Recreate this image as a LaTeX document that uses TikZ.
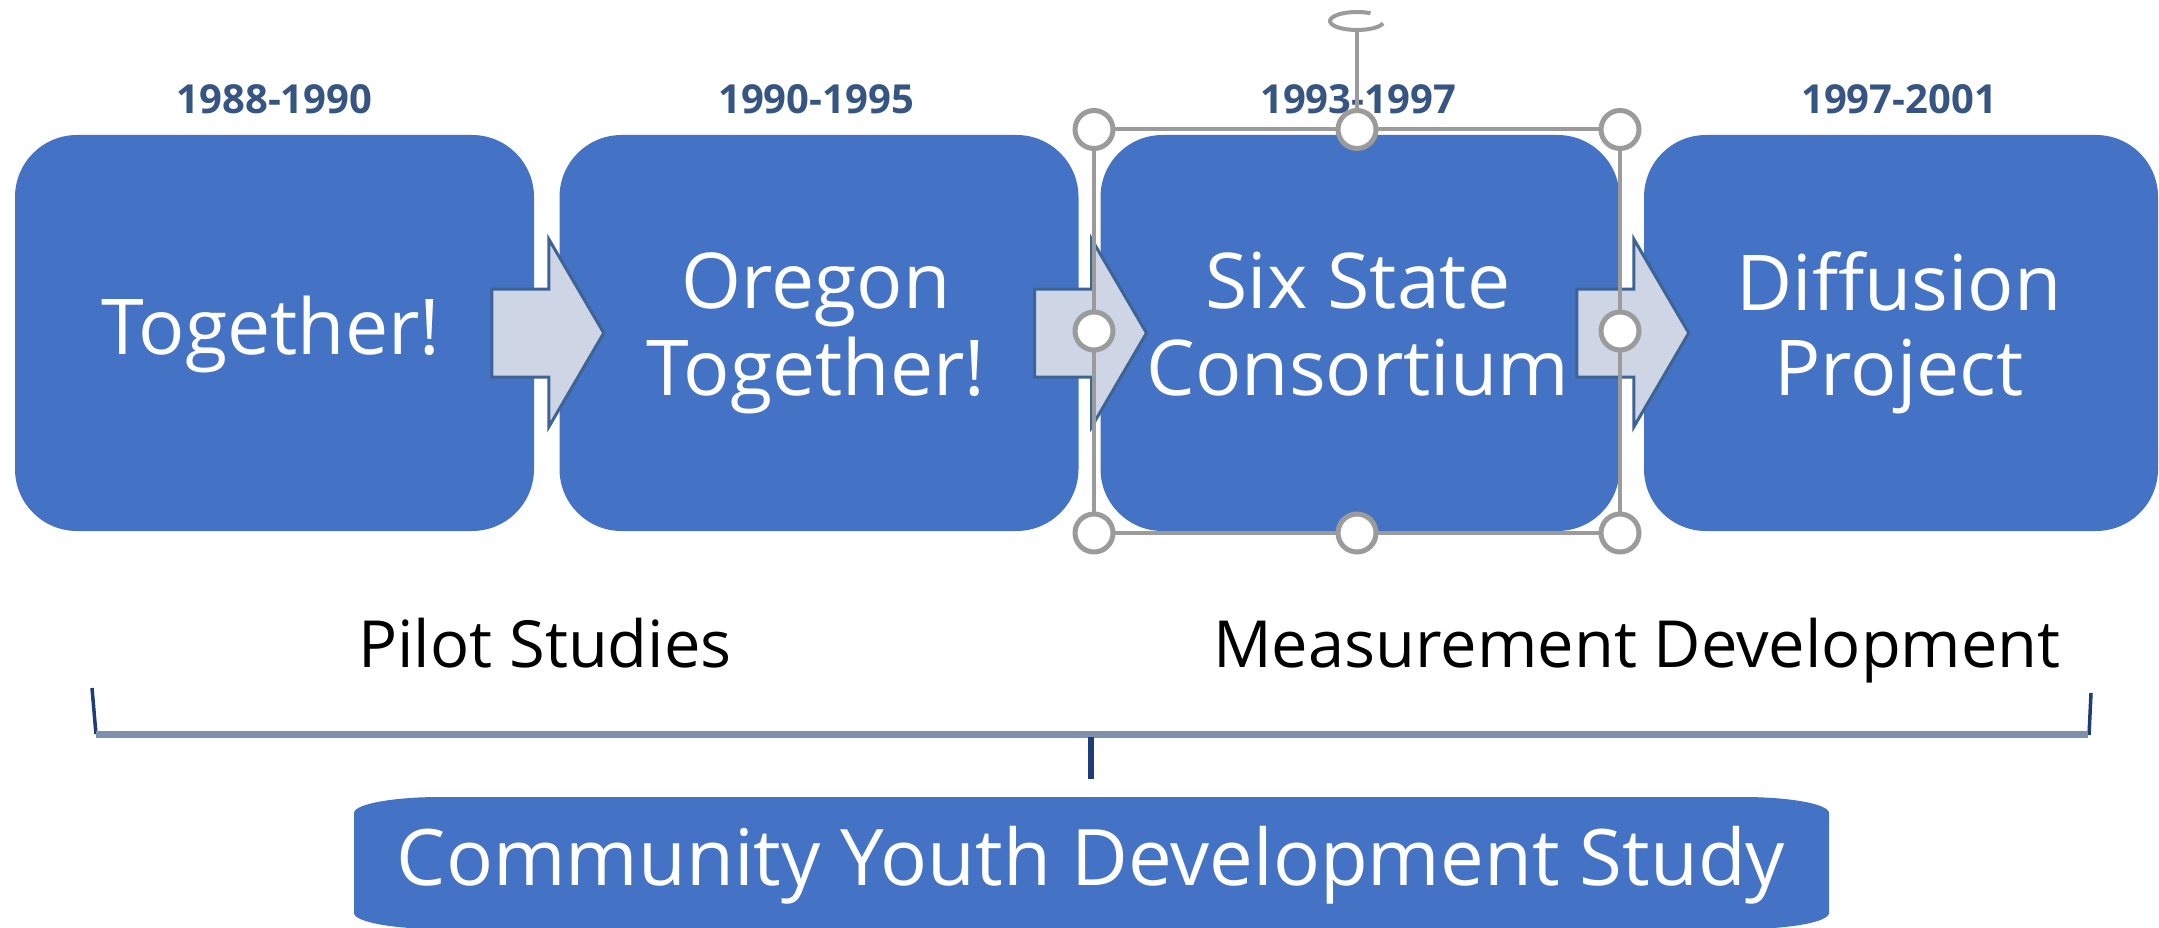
\documentclass[tikz,border=0pt]{standalone}
\usepackage{fontspec}
\setmainfont{Open Sans}
\usetikzlibrary{calc}
\definecolor{boxblue}{RGB}{68,114,196}
\definecolor{arrowfill}{RGB}{206,213,228}
\definecolor{arrowdraw}{RGB}{62,100,150}
\definecolor{yearcol}{RGB}{55,85,130}
\definecolor{framegray}{RGB}{155,155,155}
\definecolor{barcol}{RGB}{127,143,176}
\definecolor{navy}{RGB}{30,60,120}
\tikzset{
  stagebox/.style={fill=boxblue, draw=none, rounded corners=62pt, inner sep=0pt,
    minimum width=519pt, minimum height=396pt},
  boxtxt/.style={text=white, inner sep=0pt, anchor=base, font=\fontsize{77}{87}\selectfont},
  yeartxt/.style={text=yearcol, inner sep=0pt, anchor=base, font=\fontsize{40}{48}\selectfont\bfseries},
  phasetxt/.style={text=black, inner sep=0pt, anchor=base, font=\fontsize{65}{78}\selectfont},
  blockarrow/.style={fill=arrowfill, draw=arrowdraw, line width=3pt, line join=miter},
  frameline/.style={draw=framegray, line width=4pt},
  handle/.style={circle, draw=framegray, fill=white, line width=5pt, minimum size=38pt, inner sep=0pt},
  tick/.style={draw=navy, line width=3.5pt},
}
\begin{document}
\begin{tikzpicture}[x=1pt,y=-1pt]
\useasboundingbox (0,0) rectangle (2159,928);
\clip (0,0) rectangle (2159,928);

% stage boxes
\node[stagebox] (b1) at (274.5,333) {};
\node[stagebox] (b2) at (819,333) {};
\node[stagebox] (b3) at (1360,333) {};
\node[stagebox, minimum width=514pt] (b4) at (1901,333) {};

% year labels
\node[yeartxt] (y1) at (274.5,114) {1988-1990};
\node[yeartxt] (y2) at (816,114) {1990-1995};
\node[yeartxt] (y3) at (1358,114) {1993-1997};
\node[yeartxt] (y4) at (1899,114) {1997-2001};

% box texts
\node[boxtxt] (t1) at (271,354) {Together!};
\node[boxtxt] (t2a) at (816,308) {Oregon};
\node[boxtxt] (t2b) at (816,395) {Together!};
\node[boxtxt] (t3a) at (1358,308) {Six State};
\node[boxtxt] (t3b) at (1358,395) {Consortium};
\node[boxtxt] (t4a) at (1899,310) {Diffusion};
\node[boxtxt] (t4b) at (1899,395) {Project};

% block arrows between boxes
\coordinate (g1) at ($(b1.east)!.5!(b2.west)$);
\coordinate (g2) at ($(b2.east)!.5!(b3.west)$);
\coordinate (g3) at ($(b3.east)!.5!(b4.west)$);
\foreach \g in {g1,g2,g3}{
  \draw[blockarrow] (\g) ++(-55,-44) -- ++(57,0) -- ++(0,-50) -- ++(55,94)
    -- ++(-55,94) -- ++(0,-50) -- ++(-57,0) -- cycle;
}

% selection frame around the third box
\draw[frameline] (1094,129.5) rectangle (1620,533);
\coordinate (rc) at (1357,21);
\draw[framegray, line width=4pt] (rc) ++(15:27 and 9) arc[start angle=15, end angle=300, x radius=27, y radius=9];
\node[handle] (h1) at (1094,129.5) {};
\node[handle] (h2) at (1357,129.5) {};
\node[handle] (h3) at (1620,129.5) {};
\node[handle] (h4) at (1094,331) {};
\node[handle] (h5) at (1620,331) {};
\node[handle] (h6) at (1094,533) {};
\node[handle] (h7) at (1357,533) {};
\node[handle] (h8) at (1620,533) {};
\coordinate (rb) at (1357,30);
\draw[frameline] (h2.north) -- (rb);

% phase labels
\node[phasetxt] (p1) at (545,667) {Pilot Studies};
\node[phasetxt] (p2) at (1637,667) {Measurement Development};

% bracket
\coordinate (bl) at (96,734);
\coordinate (br) at (2088,734);
\coordinate (bm) at (1091,737);
\draw[tick] (92,688) -- (96,734);
\draw[tick] (2091,693) -- (2089,735);
\draw[barcol, line width=7pt] (bl) -- (br);

% bottom study box
\path[fill=boxblue] (354,813) arc[start angle=180, end angle=270, x radius=86, y radius=16]
  -- (1743,797) arc[start angle=270, end angle=360, x radius=86, y radius=16]
  -- (1829,913) arc[start angle=0, end angle=90, x radius=86, y radius=16]
  -- (440,929) arc[start angle=90, end angle=180, x radius=86, y radius=16] -- cycle;
\node[boxtxt, font=\fontsize{78}{90}\selectfont] (study) at (1091,885) {Community Youth Development Study};
\coordinate (st) at (1091,779);
\draw[navy, line width=6pt] (bm) -- (st);
\end{tikzpicture}
\end{document}
